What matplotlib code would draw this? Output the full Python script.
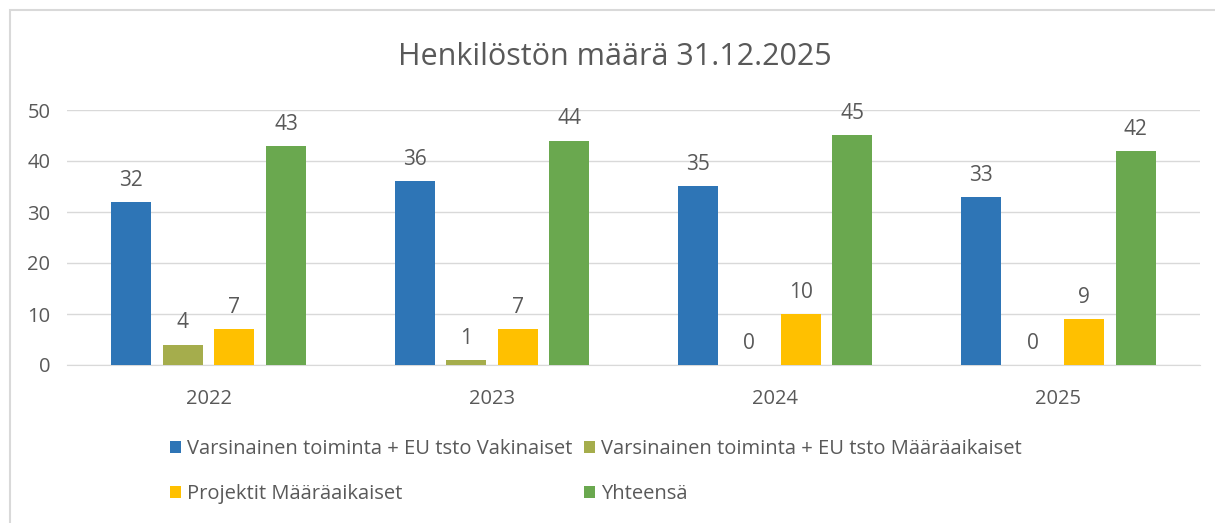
import matplotlib.pyplot as plt
import numpy as np
from matplotlib.patches import Rectangle

years = ['2022', '2023', '2024', '2025']
series_names = [
    'Varsinainen toiminta + EU tsto Vakinaiset',
    'Varsinainen toiminta + EU tsto Määräaikaiset',
    'Projektit Määräaikaiset',
    'Yhteensä',
]
vakinaiset = [32, 36, 35, 33]
maaraaikaiset = [4, 1, 0, 0]
projektit = [7, 7, 10, 9]
yhteensa = [43, 44, 45, 42]
colors = ['#2E75B6', '#A5AD4C', '#FFC000', '#6AA84F']

plt.rcParams['font.family'] = ['Open Sans', 'DejaVu Sans']
text_color = '#595959'

fig = plt.figure(figsize=(12.15, 5.23), dpi=100)
fig.patches.append(Rectangle((10 / 1215, -0.1), 1.2, 1 - 10 / 523 + 0.1,
                             transform=fig.transFigure, fill=False,
                             edgecolor='#D9D9D9', linewidth=1.5))
ax = fig.add_axes([67 / 1215, 1 - 365 / 523, (1200 - 67) / 1215, 255 / 523])

x = np.arange(len(years))
step = 0.182
width = 0.141
all_series = [vakinaiset, maaraaikaiset, projektit, yhteensa]
handles = []
for i, (name, values, color) in enumerate(zip(series_names, all_series, colors)):
    pos = x + (i - 1.5) * step
    bars = ax.bar(pos, values, width, color=color, label=name, zorder=3)
    ax.bar_label(bars, padding=8, fontsize=15, color=text_color)
    handles.append(bars)

ax.set_xlim(-0.5, 3.5)
ax.set_ylim(0, 50)
ax.set_yticks(range(0, 51, 10))
ax.set_xticks(x)
ax.set_xticklabels(years)
ax.grid(axis='y', color='#D9D9D9', linewidth=1, zorder=0)
for side in ['top', 'right', 'left']:
    ax.spines[side].set_visible(False)
ax.spines['bottom'].set_color('#D9D9D9')
ax.tick_params(axis='both', length=0, labelsize=14.5, labelcolor=text_color)
ax.tick_params(axis='y', pad=12)
ax.tick_params(axis='x', pad=17)

fig.text(615 / 1215, 1 - 57 / 523, 'Henkilöstön määrä 31.12.2025', ha='center',
         va='center', fontsize=22, color=text_color)

# legend is filled row by row in the reference
order = [0, 2, 1, 3]
fig.legend([handles[k] for k in order], [series_names[k] for k in order],
           loc='upper left', bbox_to_anchor=(152 / 1215, 1 - 421 / 523), ncol=2,
           frameon=False, fontsize=14.5, labelcolor=text_color, handlelength=0.55,
           handleheight=0.55, handletextpad=0.3, columnspacing=0.55, labelspacing=1.25)

fig.savefig('out.png', dpi=100)
